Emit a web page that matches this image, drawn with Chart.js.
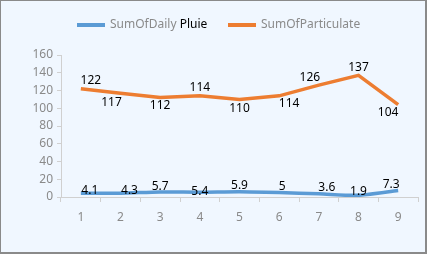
<!DOCTYPE html>
<html>
<head>
<script src="https://cdn.jsdelivr.net/npm/chart.js@4/dist/chart.umd.min.js"></script>
<style>
  body { margin: 0; background: #fff; }
  #wrap { width: 427px; height: 254px; }
</style>
</head>
<body>
<div id="wrap"><canvas id="c" width="427" height="254"></canvas></div>
<script>
// data
var days = ['1', '2', '3', '4', '5', '6', '7', '8', '9'];
var pluie = [4.1, 4.3, 5.7, 5.4, 5.9, 5, 3.6, 1.9, 7.3];
var particulate = [122, 117, 112, 114, 110, 114, 126, 137, 104];
var yTicks = [0, 20, 40, 60, 80, 100, 120, 140, 160];

var FONT = '"Noto Sans", sans-serif';

// frame + background
var frame = {
  id: 'frame',
  beforeDraw: function(chart) {
    var ctx = chart.ctx;
    ctx.save();
    ctx.fillStyle = '#f0f7ff';
    ctx.fillRect(0, 0, chart.width, chart.height);
    ctx.strokeStyle = '#8a8a8a';
    ctx.lineWidth = 1;
    ctx.strokeRect(0.5, 0.5, chart.width - 2, chart.height - 2);
    ctx.fillStyle = '#8a8a8a';
    ctx.fillRect(chart.width - 1, 0, 1, chart.height);
    ctx.fillRect(0, chart.height - 1, chart.width, 1);
    ctx.restore();
  }
};

// legend drawn by hand ("Pluie" is black in the original)
var legendDraw = {
  id: 'legendDraw',
  afterDraw: function(chart) {
    var ctx = chart.ctx;
    var ds = chart.data.datasets;
    ctx.save();
    ctx.font = '12px ' + FONT;
    ctx.textBaseline = 'middle';
    var items = [
      { x: 77, parts: [['SumOfDaily ', '#8a8a8a'], ['Pluie', '#000']], color: ds[0].borderColor },
      { x: 228, parts: [['SumOfParticulate', '#8a8a8a']], color: ds[1].borderColor }
    ];
    items.forEach(function(it) {
      ctx.strokeStyle = it.color;
      ctx.lineWidth = 4;
      ctx.beginPath();
      ctx.moveTo(it.x, 25);
      ctx.lineTo(it.x + 28, 25);
      ctx.stroke();
      var tx = it.x + 33;
      it.parts.forEach(function(p) {
        ctx.fillStyle = p[1];
        ctx.fillText(p[0], tx, 25);
        tx += ctx.measureText(p[0]).width;
      });
    });
    ctx.restore();
  }
};

// value labels
var pointLabels = {
  id: 'pointLabels',
  afterDatasetsDraw: function(chart, args, opts) {
    var ctx = chart.ctx;
    ctx.save();
    ctx.font = '12px ' + FONT;
    ctx.fillStyle = '#000';
    ctx.textAlign = 'center';
    ctx.textBaseline = 'middle';
    chart.data.datasets.forEach(function(ds, i) {
      var meta = chart.getDatasetMeta(i);
      meta.data.forEach(function(pt, j) {
        var off = opts.offsets[i][j];
        ctx.fillText(String(ds.data[j]), pt.x + off[0], pt.y + off[1]);
      });
    });
    ctx.restore();
  }
};

new Chart(document.getElementById('c'), {
  type: 'line',
  data: {
    labels: days,
    datasets: [
      { label: 'SumOfDaily Pluie', data: pluie, borderColor: '#5b9bd5', borderWidth: 3.5, pointRadius: 0, tension: 0.25 },
      { label: 'SumOfParticulate', data: particulate, borderColor: '#ed7d31', borderWidth: 3.5, pointRadius: 0, tension: 0 }
    ]
  },
  options: {
    responsive: false,
    animation: false,
    layout: { padding: { left: 0, right: 9, top: 55, bottom: 0 } },
    plugins: {
      legend: { display: false },
      tooltip: { enabled: false },
      pointLabels: {
        offsets: [
          [[9, -3], [9, -3], [0, -5], [0, -1], [0, -6], [3, -6], [8, -6], [0, -4], [-7, -6]],
          [[10, -8], [-9, 9], [0, 8], [0, -8], [0, 9], [10, 8], [-9, -8], [0, -8], [-10, 8]]
        ]
      }
    },
    scales: {
      x: {
        offset: true,
        afterFit: function(s) { s.height = 57; },
        grid: { offset: true, drawOnChartArea: false, color: '#d0d0d0', tickLength: 5, tickColor: '#d0d0d0' },
        border: { color: '#d0d0d0', width: 1 },
        ticks: { color: '#8a8a8a', font: { family: FONT, size: 12 }, padding: 8, maxRotation: 0 }
      },
      y: {
        min: 0,
        max: 160,
        afterFit: function(s) { s.width = 61; },
        afterBuildTicks: function(s) { s.ticks = yTicks.map(function(v) { return { value: v }; }); },
        grid: { drawOnChartArea: false, color: '#d0d0d0', tickLength: 4, tickColor: '#d0d0d0' },
        border: { color: '#d0d0d0', width: 1 },
        ticks: { color: '#8a8a8a', font: { family: FONT, size: 12 }, padding: 4 }
      }
    }
  },
  plugins: [frame, legendDraw, pointLabels]
});
</script>
</body>
</html>
